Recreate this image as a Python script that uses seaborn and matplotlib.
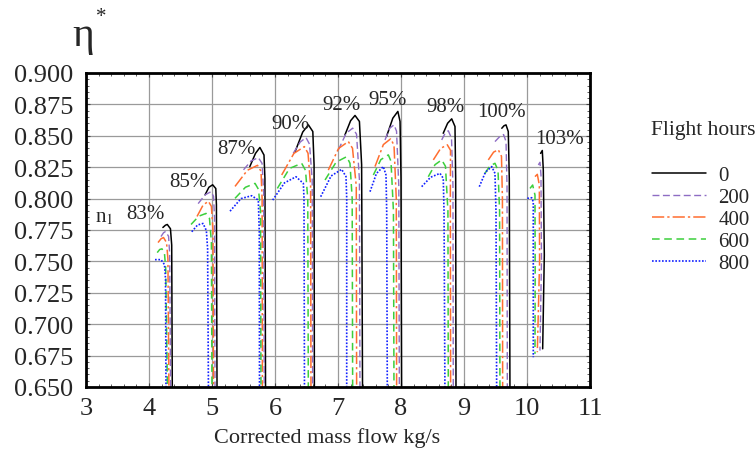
import matplotlib
matplotlib.use("Agg")
import matplotlib.pyplot as plt
import seaborn as sns
from matplotlib.lines import Line2D
from matplotlib.ticker import MultipleLocator, FormatStrFormatter

# speed lines (relative speed n1) and where their labels sit
speeds = ['83%', '85%', '87%', '90%', '92%', '95%', '98%', '100%', '103%']
speed_lab_x = [3.95, 4.62, 5.38, 6.24, 7.05, 7.79, 8.70, 9.60, 10.52]
speed_lab_y = [0.788, 0.8137, 0.840, 0.860, 0.8752, 0.879, 0.8736, 0.8696, 0.848]

hours = ['0', '200', '400', '600', '800']

# each series: one (x, y) curve per speed line
h0_x = [[4.22, 4.26, 4.29, 4.34, 4.36, 4.37],
        [4.89, 4.95, 5.01, 5.06, 5.07, 5.08],
        [5.60, 5.69, 5.76, 5.825, 5.84, 5.85],
        [6.32, 6.44, 6.53, 6.60, 6.62, 6.625],
        [7.11, 7.20, 7.27, 7.34, 7.375, 7.39],
        [7.77, 7.87, 7.95, 7.985, 8.0, 8.01],
        [8.67, 8.74, 8.805, 8.857, 8.868, 8.873],
        [9.60, 9.635, 9.667, 9.703, 9.719, 9.73],
        [10.216, 10.243, 10.259, 10.275, 10.249]]
h0_y = [[0.777, 0.7788, 0.7794, 0.776, 0.763, 0.64],
        [0.803, 0.809, 0.811, 0.808, 0.795, 0.64],
        [0.8255, 0.836, 0.8407, 0.8347, 0.816, 0.64],
        [0.8375, 0.853, 0.8587, 0.8534, 0.827, 0.64],
        [0.8507, 0.862, 0.8662, 0.8614, 0.827, 0.64],
        [0.8494, 0.864, 0.8694, 0.8614, 0.816, 0.64],
        [0.852, 0.860, 0.8635, 0.8574, 0.816, 0.64],
        [0.856, 0.858, 0.8587, 0.8534, 0.816, 0.64],
        [0.836, 0.8383, 0.8227, 0.755, 0.6804]]

h200_x = [[4.19, 4.23, 4.262, 4.31, 4.328, 4.343],
          [4.78, 4.89, 4.984, 5.024, 5.04, 5.048],
          [5.50, 5.62, 5.735, 5.794, 5.82, 5.83],
          [6.29, 6.40, 6.492, 6.548, 6.59, 6.598],
          [7.005, 7.13, 7.233, 7.294, 7.34, 7.349],
          [7.746, 7.82, 7.889, 7.929, 7.965, 7.974],
          [8.646, 8.70, 8.751, 8.802, 8.825, 8.83],
          [9.492, 9.56, 9.628, 9.667, 9.683, 9.688],
          [10.18, 10.206, 10.222, 10.23, 10.206]]
h200_y = [[0.7698, 0.7728, 0.7738, 0.770, 0.756, 0.64],
          [0.796, 0.803, 0.8055, 0.8018, 0.785, 0.64],
          [0.8229, 0.830, 0.8326, 0.8281, 0.805, 0.64],
          [0.8361, 0.845, 0.8486, 0.8433, 0.815, 0.64],
          [0.8387, 0.852, 0.8561, 0.8513, 0.815, 0.64],
          [0.8467, 0.856, 0.8587, 0.8537, 0.81, 0.64],
          [0.8467, 0.852, 0.854, 0.8481, 0.81, 0.64],
          [0.8454, 0.849, 0.851, 0.8455, 0.81, 0.64],
          [0.8268, 0.8289, 0.8188, 0.75, 0.679]]

h400_x = [[4.143, 4.19, 4.23, 4.278, 4.30, 4.317],
          [4.762, 4.86, 4.943, 4.99, 5.015, 5.024],
          [5.365, 5.56, 5.722, 5.778, 5.795, 5.80],
          [6.106, 6.30, 6.466, 6.524, 6.565, 6.571],
          [6.846, 7.01, 7.164, 7.23, 7.29, 7.296],
          [7.587, 7.72, 7.836, 7.889, 7.925, 7.931],
          [8.513, 8.63, 8.735, 8.786, 8.783, 8.788],
          [9.386, 9.47, 9.544, 9.595, 9.61, 9.614],
          [10.127, 10.164, 10.196, 10.20, 10.164]]
h400_y = [[0.765, 0.768, 0.769, 0.765, 0.752, 0.64],
          [0.7858, 0.795, 0.7978, 0.7938, 0.775, 0.64],
          [0.8097, 0.8225, 0.8265, 0.8217, 0.80, 0.64],
          [0.8188, 0.836, 0.8414, 0.8361, 0.81, 0.64],
          [0.8227, 0.840, 0.8454, 0.8401, 0.81, 0.64],
          [0.8255, 0.843, 0.8476, 0.8425, 0.80, 0.64],
          [0.8308, 0.840, 0.8428, 0.8385, 0.80, 0.64],
          [0.8308, 0.837, 0.8389, 0.8337, 0.80, 0.64],
          [0.8175, 0.8193, 0.8108, 0.75, 0.6777]]

h600_x = [[4.13, 4.17, 4.206, 4.246, 4.265, 4.294],
          [4.667, 4.79, 4.905, 4.96, 4.99, 5.0],
          [5.365, 5.53, 5.683, 5.738, 5.77, 5.778],
          [6.037, 6.23, 6.423, 6.484, 6.52, 6.529],
          [6.794, 6.97, 7.138, 7.19, 7.225, 7.233],
          [7.561, 7.68, 7.799, 7.841, 7.88, 7.889],
          [8.433, 8.54, 8.646, 8.706, 8.745, 8.751],
          [9.333, 9.41, 9.492, 9.54, 9.565, 9.571],
          [10.048, 10.09, 10.127, 10.13, 10.127]]
h600_y = [[0.757, 0.7595, 0.760, 0.756, 0.744, 0.64],
          [0.7794, 0.786, 0.7882, 0.7842, 0.765, 0.64],
          [0.8002, 0.809, 0.8121, 0.8073, 0.79, 0.64],
          [0.8081, 0.824, 0.8281, 0.8225, 0.80, 0.64],
          [0.8148, 0.829, 0.8334, 0.8281, 0.80, 0.64],
          [0.8188, 0.831, 0.8348, 0.8297, 0.79, 0.64],
          [0.8174, 0.827, 0.8308, 0.8257, 0.79, 0.64],
          [0.8201, 0.826, 0.8281, 0.8225, 0.79, 0.64],
          [0.8081, 0.8108, 0.8028, 0.74, 0.6764]]

h800_x = [[4.095, 4.19, 4.246, 4.262, 4.27],
          [4.678, 4.77, 4.857, 4.91, 4.93, 4.944],
          [5.286, 5.46, 5.63, 5.735, 5.75, 5.754],
          [5.963, 6.15, 6.333, 6.45, 6.46, 6.468],
          [6.725, 6.89, 7.058, 7.127, 7.138, 7.138],
          [7.508, 7.61, 7.719, 7.762, 7.773, 7.783],
          [8.328, 8.47, 8.619, 8.671, 8.683, 8.698],
          [9.243, 9.34, 9.44, 9.492, 9.508, 9.519],
          [10.005, 10.074, 10.1, 10.1]]
h800_y = [[0.7514, 0.7514, 0.7474, 0.736, 0.64],
          [0.7736, 0.779, 0.7802, 0.7746, 0.760, 0.64],
          [0.790, 0.800, 0.8023, 0.7988, 0.7736, 0.64],
          [0.7988, 0.8125, 0.8174, 0.8121, 0.8002, 0.64],
          [0.8015, 0.818, 0.8233, 0.8175, 0.8002, 0.64],
          [0.8055, 0.820, 0.8255, 0.8188, 0.7895, 0.64],
          [0.8095, 0.817, 0.8201, 0.8161, 0.7895, 0.64],
          [0.8095, 0.821, 0.8255, 0.8201, 0.7895, 0.64],
          [0.8002, 0.8007, 0.7975, 0.6737]]

series_x = [h0_x, h200_x, h400_x, h600_x, h800_x]
series_y = [h0_y, h200_y, h400_y, h600_y, h800_y]
colors = ['black', '#8e6cc4', '#ff6e30', '#3ccf3c', '#1020ff']
styles = ['-', (0, (5, 2.5)), (0, (8, 2, 1.5, 2)), (0, (5, 3)), (0, (1, 1))]
widths = [1.1, 1.0, 1.1, 1.1, 1.2]

sns.set_style("ticks")
plt.rcParams['font.family'] = ['Liberation Serif', 'DejaVu Serif']
plt.rcParams['mathtext.fontset'] = 'stix'

fig = plt.figure(figsize=(7.56, 4.52), dpi=100)
ax = fig.add_axes([0.1138, 0.1416, 0.6666, 0.6947])

for k in range(len(hours)):
    for xs, ys in zip(series_x[k], series_y[k]):
        sns.lineplot(x=xs, y=ys, sort=False, estimator=None, ax=ax,
                     color=colors[k], linestyle=styles[k], linewidth=widths[k])

ax.set_xlim(3, 11)
ax.set_ylim(0.65, 0.9)
ax.xaxis.set_major_locator(MultipleLocator(1))
ax.xaxis.set_minor_locator(MultipleLocator(0.2))
ax.yaxis.set_major_locator(MultipleLocator(0.025))
ax.yaxis.set_minor_locator(MultipleLocator(0.005))
ax.yaxis.set_major_formatter(FormatStrFormatter('%.3f'))
ax.grid(True, which='major', color='#9a9a9a', linewidth=0.9)
ax.tick_params(which='both', direction='in', top=True, right=True, labelsize=19, color='#444444')
ax.tick_params(which='major', length=3, width=0.8, pad=7)
ax.tick_params(axis='y', which='major', pad=9)
ax.tick_params(which='minor', length=2, width=0.6)
for s in ax.spines.values():
    s.set_linewidth(2)
    s.set_color('black')
ax.set_xlabel('')
ax.set_ylabel('')

for lab, lx, ly in zip(speeds, speed_lab_x, speed_lab_y):
    ax.text(lx, ly, lab, fontsize=15, ha='center', va='center')
ax.text(3.29, 0.7858, r'n$_{\mathrm{1}}$', fontsize=15, ha='center', va='center')

fig.text(0.4325, 0.031, 'Corrected mass flow kg/s', fontsize=16, ha='center', va='center')
fig.text(0.095, 0.898, 'η', fontsize=30, ha='left', va='baseline')
fig.text(0.134, 0.962, '*', fontsize=15, ha='center', va='center')

fig.text(0.9306, 0.712, 'Flight hours', fontsize=15.5, ha='center', va='center')
handles = [Line2D([], [], color=colors[k], linestyle=styles[k], linewidth=widths[k])
           for k in range(len(hours))]
fig.legend(handles, hours, loc='upper left', bbox_to_anchor=(0.862, 0.632),
           frameon=False, fontsize=15, handlelength=2.6, handletextpad=0.6,
           labelspacing=0.12, borderpad=0, borderaxespad=0)

fig.savefig('out.png', dpi=100)
